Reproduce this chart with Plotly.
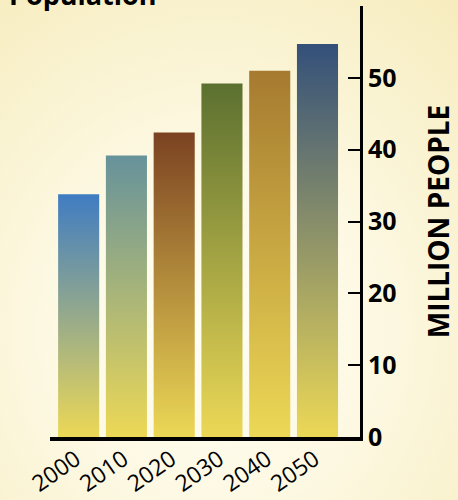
import plotly.graph_objects as go

years = ["2000", "2010", "2020", "2030", "2040", "2050"]
population = [33.8, 39.2, 42.4, 49.2, 51.0, 54.7]
top_colors = ["#3f7cc2", "#66929b", "#7b4222", "#5b7030", "#a67a30", "#33507a"]
bottom_color = "#ecd856"
y_ticks = [0, 10, 20, 30, 40, 50]

W, H = 458, 500
BAR_W = 0.86

fig = go.Figure()

# background radial gradient on hidden full-page axes
cx, cy = 0.46, 0.34
hx, hy = 0.95, 0.95
fig.add_trace(go.Scatter(
    x=[cx - hx, cx + hx, cx + hx, cx - hx, cx - hx],
    y=[cy - hy, cy - hy, cy + hy, cy + hy, cy - hy],
    mode="lines", line=dict(width=0), fill="toself",
    fillgradient=dict(type="radial",
                      colorscale=[[0, "#fffef6"], [0.35, "#fdf9e4"], [0.7, "#f9f1cc"], [1, "#f5e9b6"]]),
    xaxis="x", yaxis="y", hoverinfo="skip", showlegend=False,
))

for i, (yr, v, c) in enumerate(zip(years, population, top_colors)):
    x0, x1 = i - BAR_W / 2, i + BAR_W / 2
    fig.add_trace(go.Scatter(
        x=[x0, x1, x1, x0, x0], y=[0, 0, v, v, 0],
        mode="lines", line=dict(width=0), fill="toself",
        fillgradient=dict(type="vertical", colorscale=[[0, bottom_color], [1, c]]),
        xaxis="x2", yaxis="y2", name=yr, showlegend=False,
    ))

fig.update_layout(
    template="none",
    width=W, height=H,
    margin=dict(l=0, r=0, t=0, b=0, pad=0),
    paper_bgcolor="#fbf4d6",
    plot_bgcolor="rgba(0,0,0,0)",
    showlegend=False,
    xaxis=dict(domain=[0, 1], range=[0, 1], visible=False, fixedrange=True, automargin=False),
    yaxis=dict(domain=[0, 1], range=[0, 1], visible=False, fixedrange=True, automargin=False),
    xaxis2=dict(
        domain=[50 / W, 360 / W], anchor="y2", automargin=False,
        range=[-0.6, 5.89],
        tickmode="array", tickvals=list(range(len(years))), ticktext=years,
        tickangle=-35, ticks="", showgrid=False, zeroline=False,
        ticklabelstandoff=-4, ticklabelshift=-3,
        showline=True, linewidth=4, linecolor="#000000",
        tickfont=dict(family="Open Sans", size=23, color="#000000"),
    ),
    yaxis2=dict(
        domain=[(H - 437) / H, (H - 6) / H], anchor="x2", side="right", automargin=False,
        range=[0, 60],
        tickmode="array", tickvals=y_ticks,
        ticks="inside", ticklen=12, tickwidth=2, tickcolor="#000000",
        showgrid=False, zeroline=False,
        showline=True, linewidth=3, linecolor="#000000",
        tickfont=dict(family="Open Sans", size=25, color="#000000", weight="bold"),
        title=dict(text="MILLION PEOPLE", standoff=34,
                   font=dict(family="Open Sans", size=28, color="#000000", weight="bold")),
    ),
    annotations=[dict(
        text="<b>Population</b>", xref="paper", yref="paper",
        x=7 / W, y=1 - 15 / H, xanchor="left", yanchor="bottom", showarrow=False,
        font=dict(family="Open Sans", size=27, color="#000000"),
    )],
)

fig.write_html("out.html")
